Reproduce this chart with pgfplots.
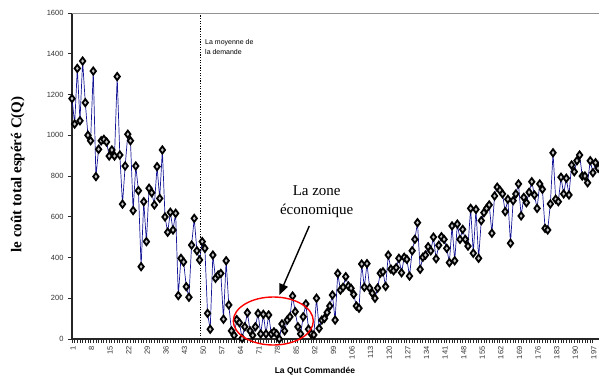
\documentclass[border=0pt]{standalone}
\usepackage{fontspec}
\setmainfont{Liberation Sans}
\newfontfamily\tnr{Liberation Serif}
\usepackage{pgfplots}
\usepackage{pgfplotstable}
\pgfplotsset{compat=1.18}
\usetikzlibrary{arrows.meta}
\definecolor{serie}{RGB}{20,20,150}
\pgfplotstableread{
x y
1 1180
2 1055
3 1328
4 1071
5 1364
6 1160
7 1000
8 973
9 1315
10 797
11 931
12 973
13 980
14 967
15 898
16 928
17 898
18 1288
19 903
20 662
21 849
22 1005
23 973
24 630
25 849
26 728
27 355
28 674
29 478
30 740
31 718
32 658
33 846
34 690
35 928
36 599
37 524
38 622
39 535
40 617
41 213
42 396
43 378
44 257
45 205
46 461
47 592
48 433
49 388
50 478
51 445
52 126
53 48
54 412
55 298
56 314
57 322
58 97
59 384
60 167
61 40
62 18
63 95
64 80
65 3
66 60
67 129
68 40
69 18
70 60
71 126
72 25
73 121
74 25
75 118
76 25
77 35
78 25
79 0
80 74
81 40
82 93
83 109
84 211
85 134
86 60
87 25
88 109
89 172
90 48
91 25
92 20
93 200
94 52
95 93
96 101
97 130
98 162
99 216
100 93
101 322
102 240
103 254
104 306
105 260
106 249
107 219
108 162
109 151
110 368
111 254
112 370
113 250
114 225
115 200
116 250
117 323
118 330
119 258
120 412
121 343
122 335
123 350
124 396
125 325
126 401
127 391
128 309
129 433
130 489
131 571
132 342
133 401
134 412
135 453
136 433
137 500
138 394
139 460
140 502
141 489
142 445
143 375
144 555
145 384
146 564
147 489
148 538
149 489
150 456
151 641
152 421
153 636
154 396
155 581
156 620
157 641
158 658
159 519
160 702
161 745
162 730
163 712
164 625
165 686
166 470
167 679
168 712
169 761
170 604
171 695
172 669
173 720
174 772
175 707
176 641
177 761
178 735
179 543
180 535
181 663
182 914
183 686
184 674
185 794
186 712
187 789
188 707
189 854
190 821
191 875
192 903
193 800
194 800
195 767
196 875
197 816
198 865
199 838
200 937
}\costdata
\begin{document}
\begin{tikzpicture}
\useasboundingbox (-72pt,-37pt) rectangle (527pt,339pt);
\begin{axis}[
  at={(0pt,0pt)}, anchor=south west,
  scale only axis, width=527pt, height=326pt,
  xmin=1, xmax=199.3, ymin=0, ymax=1600,
  axis x line=bottom, axis y line=left,
  x axis line style={black!85, line width=1.4pt, -},
  y axis line style={black!85, line width=1.8pt, -},
  xtick={1,8,...,197}, minor x tick num=6,
  ytick={0,200,...,1600},
  tick align=outside,
  major tick length=4pt, minor tick length=3.5pt,
  every tick/.style={black!85, line width=0.8pt},
  /pgf/number format/assume math mode=true,
  /pgf/number format/1000 sep={},
  tick label style={font=\fontsize{7.5}{9}\selectfont, black!80},
  x tick label style={rotate=90, anchor=east},
  xticklabel style={yshift=-1pt},
  yticklabel style={xshift=-1pt},
  xlabel={La Qut Commandée},
  xlabel style={font=\fontsize{8.5}{10}\selectfont\bfseries, at={(axis description cs:0.461,-0.098)}, anchor=center},
  ylabel={le coût total espéré C(Q)},
  ylabel style={font=\tnr\fontsize{15}{18}\selectfont\bfseries, at={(axis description cs:-0.103,0.505)}, anchor=center, rotate=0},
]
\addplot[serie, line width=0.7pt, mark=diamond*, mark size=3.6pt,
  mark options={draw=black, fill=gray!45, line width=1.8pt}] table[x=x,y=y] {\costdata};
\draw[black, line width=1.3pt, dash pattern=on 1.3pt off 1.3pt] (axis cs:49.4,0) -- (axis cs:49.4,1600);
\draw[gray!85, line width=2pt] (rel axis cs:0,1) -- (rel axis cs:1,1);
\end{axis}
\node[anchor=north west, align=left, font=\fontsize{7}{10.7}\selectfont, inner sep=0pt] at (133pt,300pt) {La moyenne de\\la demande};
\node[align=center, font=\tnr\fontsize{15}{19}\selectfont] at (244.7pt,137pt) {La zone\\économique};
\draw[red, line width=1.4pt] (201.3pt,18pt) ellipse [x radius=40pt, y radius=24pt];
\draw[black, line width=1.4pt, -{Triangle[length=11pt,width=9pt]}] (237.3pt,113pt) -- (207.3pt,44pt);
\end{tikzpicture}
\end{document}
